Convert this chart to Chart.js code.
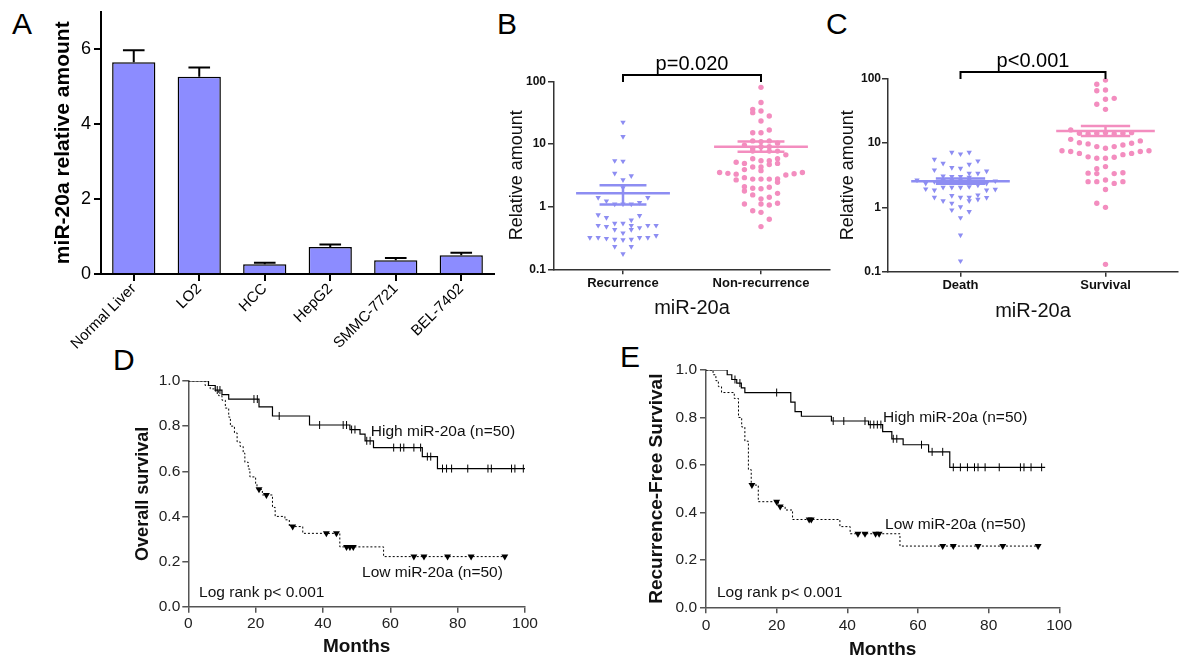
<!DOCTYPE html>
<html>
<head>
<meta charset="utf-8">
<script src="https://cdn.jsdelivr.net/npm/chart.js@4.4.1/dist/chart.umd.min.js"></script>
<style>
  body { margin: 0; background: #fff; width: 1200px; height: 667px; position: relative; overflow: hidden;
         font-family: "Liberation Sans", Arial, sans-serif; }
  canvas { position: absolute; }
  .panel { position: absolute; font-size: 30px; line-height: 1; color: #000; }
</style>
</head>
<body>
<div class="panel" style="left:12px;top:9px">A</div>
<div class="panel" style="left:497px;top:9px">B</div>
<div class="panel" style="left:826px;top:9px">C</div>
<div class="panel" style="left:113px;top:345px">D</div>
<div class="panel" style="left:620px;top:342px">E</div>

<canvas id="cA" width="520" height="352" style="left:0;top:0"></canvas>
<canvas id="cB" width="350" height="290" style="left:490px;top:40px"></canvas>
<canvas id="cC" width="370" height="290" style="left:830px;top:40px"></canvas>
<canvas id="cD" width="450" height="307" style="left:100px;top:360px"></canvas>
<canvas id="cE" width="470" height="317" style="left:610px;top:350px"></canvas>

<script>
// ---- panel A: miR-20a in tissue / cell lines
const cellLines = ['Normal Liver', 'LO2', 'HCC', 'HepG2', 'SMMC-7721', 'BEL-7402'];
const cellMeans = [5.65, 5.26, 0.26, 0.72, 0.37, 0.50];
const cellErrs = [0.32, 0.25, 0.04, 0.07, 0.06, 0.07];

// ---- panel B: recurrence vs non-recurrence (value, column within the swarm)
const groupsB = ['Recurrence', 'Non-recurrence'];
const recurVal = [22.2, 13.1, 5.4, 5.3, 3.4, 3.1, 2.67, 2.0,
  1.39, 1.23, 1.10, 1.10, 1.10, 1.16, 1.39,
  0.74, 0.67, 0.61, 0.72,
  0.50, 0.48, 0.54, 0.54, 0.50, 0.46, 0.50, 0.50,
  0.43, 0.38, 0.43,
  0.32, 0.32, 0.31, 0.30, 0.295, 0.30, 0.32, 0.32, 0.345,
  0.23, 0.23, 0.176];
const recurCol = [0, 0, -1, 0, -1, 1, 0, 0,
  -3, -2, -1, 0, 1, 2, 3,
  -3, -2, 1, 2,
  -3, -2, -1, 0, 1, 2, 3, 4,
  -1, 0, 1,
  -4, -3, -2, -1, 0, 1, 2, 3, 4,
  -1, 1, 0];
const nonRecurVal = [80, 46, 35.7, 31.6, 33.6, 28, 23.3, 15.1, 15.1, 16.7,
  9.6, 11.2, 10.9, 11.2, 10.3, 8.5, 9.06, 9.06,
  7.7, 7.7, 7.7, 6.7,
  5.1, 4.9, 5.8, 5.4, 5.4, 5.8, 4.3, 4.3, 4.7, 4.9,
  3.5, 3.4, 3.3, 3.9, 3.75, 3.2, 3.35, 3.5,
  2.67, 2.9, 2.75, 2.75, 2.75, 2.77, 2.45,
  2.08, 1.97, 1.93, 2.04, 1.78, 1.54, 1.33, 1.41, 1.63,
  1.10, 1.10, 1.06, 1.13,
  0.86, 0.81, 0.63, 0.48];
const nonRecurCol = [0, 0, -1, -1, 0, 1, 0, -1, 0, 1,
  -2, -1, 0, 1, 2, -1, 0, 1,
  -1, 1, 2, 3,
  -3, -2, -1, 0, 1, 2, -1, 0, 1, 2,
  -5, -4, -3, -2, 0, 3, 4, 5,
  -3, -2, -1, 0, 1, 2, 2,
  -2, -1, 0, 1, -2, -1, 0, 1, 2,
  -2, 0, 1, 2,
  -1, 0, 1, 0];
const meanB = [1.63, 9.06];
const semLowB = [1.08, 7.5];
const semHighB = [2.19, 10.9];

// ---- panel C: death vs survival
const groupsC = ['Death', 'Survival'];
const deathVal = [7.17, 6.75, 7.17,
  5.58, 4.83, 4.67, 5.26,
  3.81, 4.14, 4.05, 3.38, 3.38, 3.67,
  3.07, 3.0, 3.0, 2.93,
  2.66, 2.36, 2.51, 2.6, 2.66, 2.66, 2.66, 2.51, 2.36, 2.57,
  1.93, 1.86, 2.05, 2.05, 2.05, 2.09, 2.22, 1.86, 1.91,
  1.43, 1.26, 1.52, 1.43, 1.43, 1.56, 1.42,
  1.16, 1.02, 1.26, 1.33,
  0.91, 0.86,
  0.69, 0.37, 0.147];
const deathCol = [-1, 0, 1,
  -3, -2, 1, 2,
  -3, -1, 0, 1, 2, 3,
  -2, -1, 0, 1,
  -5, -4, -3, -2, -1, 0, 1, 2, 3, 4,
  -4, -3, -2, -1, 0, 1, 2, 3, 4,
  -3, -2, -1, 0, 1, 2, 3,
  -1, 0, 1, 2,
  -1, 1,
  0, 0, 0];
const survVal = [81.8, 95.4, 65, 66.7, 40, 47.8, 49.5, 33.4,
  16, 14.2, 13.8, 14.2, 14.5, 13.8, 14.2, 14.5,
  11.4, 10.1, 9.7, 8.8, 8.3, 8.8, 9.3, 9.9, 10.8,
  7.6, 7.4, 6.9, 6.1, 5.8, 5.8, 6.0, 6.6, 6.9, 7.4, 7.6,
  4.3, 4.0, 3.4, 3.35, 3.35, 3.46,
  2.51, 2.51, 2.66, 2.36, 2.51, 1.9,
  1.16, 1.0, 0.13];
const survCol = [-1, 0, -1, 0, -1, 0, 1, 0,
  -4, -3, -2, -1, 0, 1, 2, 3,
  -4, -3, -2, -1, 0, 1, 2, 3, 4,
  -5, -4, -3, -2, -1, 0, 1, 2, 3, 4, 5,
  0, -1, -2, -1, 1, 2,
  -2, -1, 0, 1, 2, 0,
  -1, 0, 0];
const meanC = [2.55, 15.4];
const semLowC = [2.33, 12.9];
const semHighC = [2.8, 18.4];

// ---- panel D: overall survival (event times / survival, censor times)
const dHighT = [0, 6, 8, 10, 12, 21, 25, 36, 48, 51, 52.5, 55, 69.5, 74, 100];
const dHighS = [1, 0.98, 0.96, 0.94, 0.92, 0.885, 0.845, 0.805, 0.785, 0.765, 0.735, 0.705, 0.665, 0.612, 0.612];
const dHighCens = [8.6, 9.4, 19.5, 20.5, 27, 39, 46, 47, 48.5, 49.5, 53, 54, 61, 63, 64, 67, 69, 71, 72,
  75.5, 76.7, 78.2, 83, 89, 90, 96, 97, 99.5];
const dLowT = [0, 5, 6.5, 8, 9, 10, 11, 12, 12.5, 13.7, 14.5, 15.4, 16.3, 16.8, 17.8, 18.3, 20, 20.4, 22,
  25, 25.8, 28.7, 30, 34, 45, 58, 94];
const dLowS = [1, 0.98, 0.965, 0.955, 0.935, 0.915, 0.88, 0.84, 0.80, 0.77, 0.73, 0.71, 0.68, 0.64, 0.61,
  0.575, 0.545, 0.52, 0.495, 0.44, 0.40, 0.385, 0.355, 0.325, 0.265, 0.222, 0.222];
const dLowCens = [21, 23.2, 31, 41, 44, 47, 48, 49, 67, 70, 77, 84, 94];

// ---- panel E: recurrence-free survival
const eHighT = [0, 6, 7.3, 8.7, 10, 11, 24, 25.2, 27, 35.5, 46, 50, 52.6, 55.8, 63, 69, 96];
const eHighS = [1, 0.98, 0.96, 0.945, 0.925, 0.905, 0.865, 0.825, 0.805, 0.785, 0.77, 0.74, 0.71, 0.685, 0.655, 0.59, 0.59];
const eHighCens = [8.2, 9.6, 20, 36, 39, 45, 46.5, 47.5, 48.5, 49.5, 53, 54, 61, 64, 67, 70, 72, 74, 76, 77,
  79, 83, 89, 90, 92, 95];
const eLowT = [0, 2, 2.8, 3.5, 4.4, 8, 9.2, 10.1, 11, 12, 12.8, 14.8, 20.5, 22.4, 24.5, 37.9, 40.8, 54.9, 94];
const eLowS = [1, 0.98, 0.955, 0.93, 0.905, 0.88, 0.80, 0.76, 0.70, 0.58, 0.515, 0.445, 0.425, 0.41, 0.37,
  0.34, 0.31, 0.258, 0.258];
const eLowCens = [13, 20, 21, 29.2, 29.8, 43, 45, 48, 49, 67, 70, 77, 84, 94];

const FONT = '"Liberation Sans", Arial, sans-serif';
const BAR = '#8c8cff';
const BLUE = '#8d8df2';
const PINK = '#f38dbf';
const COL_STEP = 0.06; // horizontal spacing of swarm columns, in category units

Chart.defaults.font.family = FONT;
Chart.defaults.color = '#000';
Chart.defaults.animation = false;
Chart.defaults.events = [];
Chart.defaults.plugins.legend.display = false;
Chart.defaults.plugins.tooltip.enabled = false;

// force the axis box to a fixed thickness so the plot areas line up with the figure
function fixAxis(size) {
  return function(scale) {
    if (scale.isHorizontal()) scale.height = size; else scale.width = size;
    scale.paddingLeft = 0; scale.paddingRight = 0; scale.paddingTop = 0; scale.paddingBottom = 0;
  };
}

function axisLines(color, width, tick) {
  return {
    border: { display: true, color: color, width: width },
    grid: { drawOnChartArea: false, drawTicks: true, tickLength: tick, color: color, lineWidth: width, offset: false }
  };
}

// ---------------- A ----------------
const errorBars = {
  id: 'errorBars',
  afterDatasetsDraw(chart) {
    const { ctx, scales: { y } } = chart;
    const meta = chart.getDatasetMeta(0);
    ctx.save();
    ctx.strokeStyle = '#000';
    ctx.lineWidth = 2;
    cellMeans.forEach(function(v, i) {
      const bar = meta.data[i];
      const half = bar.width / 4;
      const y0 = y.getPixelForValue(v);
      const y1 = y.getPixelForValue(v + cellErrs[i]);
      ctx.beginPath();
      ctx.moveTo(bar.x, y0); ctx.lineTo(bar.x, y1);
      ctx.moveTo(bar.x - half, y1); ctx.lineTo(bar.x + half, y1);
      ctx.stroke();
    });
    ctx.restore();
  }
};

new Chart(document.getElementById('cA'), {
  type: 'bar',
  data: {
    labels: cellLines,
    datasets: [{
      data: cellMeans, backgroundColor: BAR, borderColor: '#000', borderWidth: 1.5,
      barPercentage: 0.66, categoryPercentage: 1
    }]
  },
  options: {
    responsive: false, devicePixelRatio: 1,
    layout: { padding: { top: 11.5, right: 26, left: 0, bottom: 0 } },
    scales: {
      x: Object.assign(axisLines('#000', 2, 7), {
        ticks: { font: { size: 15 }, minRotation: 45, maxRotation: 45, autoSkip: false, padding: -1, color: '#000' },
        afterFit: fixAxis(78)
      }),
      y: Object.assign(axisLines('#000', 2, 7), {
        min: 0, max: 7,
        ticks: { stepSize: 2, includeBounds: false, font: { size: 18 }, padding: 3, color: '#000' },
        title: { display: true, text: 'miR-20a relative amount', color: '#000',
                 font: { size: 21, weight: 'bold', lineHeight: 1 }, padding: { top: 52.5, bottom: 0 } },
        afterFit: fixAxis(101)
      })
    }
  },
  plugins: [errorBars]
});

// ---------------- B / C ----------------
function swarm(vals, cols, center) {
  return vals.map(function(v, i) { return { x: center + cols[i] * COL_STEP, y: v }; });
}

const summary = {
  id: 'summary',
  afterDatasetsDraw(chart, args, opts) {
    const { ctx, scales: { x, y } } = chart;
    ctx.save();
    ctx.lineWidth = 2.5;
    for (let i = 0; i < opts.means.length; i++) {
      const c = i + 1;
      const xc = x.getPixelForValue(c);
      const ym = y.getPixelForValue(opts.means[i]);
      const yl = y.getPixelForValue(opts.lows[i]);
      const yh = y.getPixelForValue(opts.highs[i]);
      ctx.strokeStyle = opts.colors[i];
      ctx.beginPath();
      ctx.moveTo(x.getPixelForValue(c - 0.34), ym); ctx.lineTo(x.getPixelForValue(c + 0.34), ym);
      ctx.moveTo(x.getPixelForValue(c - 0.17), yl); ctx.lineTo(x.getPixelForValue(c + 0.17), yl);
      ctx.moveTo(x.getPixelForValue(c - 0.17), yh); ctx.lineTo(x.getPixelForValue(c + 0.17), yh);
      ctx.moveTo(xc, yl); ctx.lineTo(xc, yh);
      ctx.stroke();
    }
    ctx.restore();
  }
};

const bracket = {
  id: 'bracket',
  afterDraw(chart, args, opts) {
    const { ctx, chartArea, scales: { x } } = chart;
    const x1 = x.getPixelForValue(1), x2 = x.getPixelForValue(2);
    const yb = chartArea.top - opts.lift;
    ctx.save();
    ctx.strokeStyle = '#000';
    ctx.lineWidth = 2;
    ctx.beginPath();
    ctx.moveTo(x1, yb + 7); ctx.lineTo(x1, yb); ctx.lineTo(x2, yb); ctx.lineTo(x2, yb + 7);
    ctx.stroke();
    ctx.fillStyle = '#000';
    ctx.font = '20px ' + FONT;
    ctx.textAlign = 'center';
    ctx.textBaseline = 'alphabetic';
    ctx.fillText(opts.text, (x1 + x2) / 2, yb - opts.textGap);
    ctx.restore();
  }
};

function dotChart(id, groups, dsA, dsB, sum, br, geo) {
  return new Chart(document.getElementById(id), {
    type: 'scatter',
    data: {
      datasets: [
        { data: dsA, pointStyle: 'triangle', pointRotation: 180, pointRadius: 3.1,
          pointBackgroundColor: BLUE, pointBorderWidth: 0 },
        { data: dsB, pointStyle: 'circle', pointRadius: 2.7,
          pointBackgroundColor: PINK, pointBorderWidth: 0 }
      ]
    },
    options: {
      responsive: false, devicePixelRatio: 1,
      layout: { padding: { top: geo.top, right: geo.right, left: 0, bottom: 0 } },
      scales: {
        x: Object.assign(axisLines('#333', 1.5, 5), {
          type: 'linear', min: 0.5, max: 2.5,
          afterBuildTicks: function(s) { s.ticks = [{ value: 1 }, { value: 2 }]; },
          ticks: { callback: function(v) { return groups[v - 1]; }, font: { size: 13, weight: 'bold' },
                   padding: 1, maxRotation: 0, color: '#111' },
          title: { display: true, text: 'miR-20a', color: '#111', font: { size: 20, lineHeight: 1 },
                   padding: { top: 0, bottom: geo.xTitle } },
          afterFit: fixAxis(geo.xAxis)
        }),
        y: Object.assign(axisLines('#333', 1.5, 6), {
          type: 'logarithmic', min: 0.1, max: 100,
          afterBuildTicks: function(s) { s.ticks = [0.1, 1, 10, 100].map(function(v) { return { value: v }; }); },
          ticks: { callback: function(v) { return String(v); }, font: { size: 12, weight: 'bold' },
                   padding: geo.yPad, color: '#111' },
          title: { display: true, text: 'Relative amount', color: '#111', font: { size: 18, lineHeight: 1 },
                   padding: { top: geo.yTitle, bottom: 0 } },
          afterFit: fixAxis(geo.yAxis)
        })
      },
      plugins: { summary: sum, bracket: br }
    },
    plugins: [summary, bracket]
  });
}

dotChart('cB', groupsB, swarm(recurVal, recurCol, 1), swarm(nonRecurVal, nonRecurCol, 2),
  { means: meanB, lows: semLowB, highs: semHighB, colors: [BLUE, PINK] },
  { text: 'p=0.020', lift: 6.3, textGap: 5 },
  { top: 41.3, right: 10, xAxis: 60.7, yAxis: 64, xTitle: 12, yTitle: 17.7, yPad: 2 });

dotChart('cC', groupsC, swarm(deathVal, deathCol, 1), swarm(survVal, survCol, 2),
  { means: meanC, lows: semLowC, highs: semHighC, colors: [BLUE, PINK] },
  { text: 'p<0.001', lift: 6.7, textGap: 5 },
  { top: 38.7, right: 22, xAxis: 58.3, yAxis: 58, xTitle: 8.3, yTitle: 9.5, yPad: 1 });

// ---------------- D / E ----------------
function survAt(times, surv, t) {
  let s = surv[0];
  for (let i = 0; i < times.length; i++) if (times[i] <= t) s = surv[i];
  return s;
}
function steps(times, surv) {
  return times.map(function(t, i) { return { x: t, y: surv[i] }; });
}
function marks(times, surv, cens) {
  return cens.map(function(t) { return { x: t, y: survAt(times, surv, t) }; });
}

const notes = {
  id: 'notes',
  afterDraw(chart, args, opts) {
    const { ctx, scales: { x, y } } = chart;
    ctx.save();
    ctx.fillStyle = '#111';
    ctx.font = '15.5px ' + FONT;
    ctx.textAlign = 'left';
    ctx.textBaseline = 'middle';
    opts.items.forEach(function(n) {
      ctx.fillText(n.text, x.getPixelForValue(n.x), y.getPixelForValue(n.y));
    });
    ctx.restore();
  }
};

function kmChart(id, hi, lo, yTitle, noteItems, geo) {
  return new Chart(document.getElementById(id), {
    type: 'scatter',
    data: {
      datasets: [
        { data: steps(hi.t, hi.s), showLine: true, stepped: true, borderColor: '#000', borderWidth: 1.2,
          pointRadius: 0 },
        { data: marks(hi.t, hi.s, hi.c), pointStyle: 'line', pointRotation: 90, pointRadius: 4,
          pointBorderColor: '#000', pointBorderWidth: 1, clip: false },
        { data: steps(lo.t, lo.s), showLine: true, stepped: true, borderColor: '#000', borderWidth: 1,
          borderDash: [2, 2], pointRadius: 0 },
        { data: marks(lo.t, lo.s, lo.c), pointStyle: 'triangle', pointRotation: 180, pointRadius: 4,
          pointBackgroundColor: '#000', pointBorderWidth: 0, clip: false }
      ]
    },
    options: {
      responsive: false, devicePixelRatio: 1,
      layout: { padding: { top: geo.top, right: geo.right, left: 0, bottom: 0 } },
      scales: {
        x: Object.assign(axisLines('#555', 1.5, 6), {
          type: 'linear', min: 0, max: 100,
          ticks: { stepSize: 20, font: { size: 15.5 }, padding: geo.xPad, color: '#222', maxRotation: 0 },
          title: { display: true, text: 'Months', color: '#111', font: { size: 19, weight: 'bold', lineHeight: 1 },
                   padding: { top: 0, bottom: geo.xTitle } },
          afterFit: fixAxis(geo.xAxis)
        }),
        y: Object.assign(axisLines('#555', 1.5, 6), {
          min: 0, max: 1,
          ticks: { stepSize: 0.2, font: { size: 15.5 }, padding: geo.yPad, color: '#222',
                   callback: function(v) { return v.toFixed(1); } },
          title: { display: true, text: yTitle, color: '#111', font: { size: geo.ySize, weight: 'bold', lineHeight: 1 },
                   padding: { top: geo.yTitle, bottom: 0 } },
          afterFit: fixAxis(geo.yAxis)
        })
      },
      plugins: { notes: { items: noteItems } }
    },
    plugins: [notes]
  });
}

kmChart('cD',
  { t: dHighT, s: dHighS, c: dHighCens },
  { t: dLowT, s: dLowS, c: dLowCens },
  'Overall survival',
  [{ text: 'High miR-20a (n=50)', x: 54.2, y: 0.775 },
   { text: 'Low miR-20a (n=50)', x: 51.6, y: 0.149 },
   { text: 'Log rank p< 0.001', x: 3.2, y: 0.06 }],
  { top: 21, right: 25, xAxis: 60.3, yAxis: 88.3, xTitle: 10.5, yTitle: 34, ySize: 18, xPad: 2, yPad: 2 });

kmChart('cE',
  { t: eHighT, s: eHighS, c: eHighCens },
  { t: eLowT, s: eLowS, c: eLowCens },
  'Recurrence-Free Survival',
  [{ text: 'High miR-20a (n=50)', x: 50.1, y: 0.799 },
   { text: 'Low miR-20a (n=50)', x: 50.7, y: 0.347 },
   { text: 'Log rank p< 0.001', x: 3.1, y: 0.06 }],
  { top: 20, right: 20.7, xAxis: 59.7, yAxis: 96, xTitle: 7.5, yTitle: 37.2, ySize: 19, xPad: 3, yPad: 3 });
</script>
</body>
</html>
